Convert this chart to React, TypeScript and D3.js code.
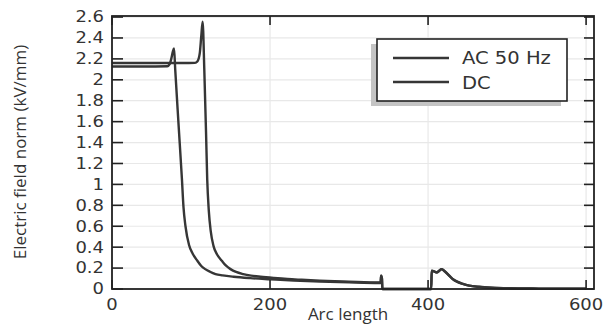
import React from "react";
import * as d3 from "d3";

// ---- data (arc length, electric field norm kV/mm) ----
const dcArc = [0, 40, 70, 73, 75, 77, 78.5, 80, 84, 88.5, 90.5, 93, 97.5, 102, 108, 113, 118, 124, 131, 140, 154, 175, 200, 230, 263, 300, 338, 340, 340.6, 341.6, 342.2, 404, 404.6, 408, 411, 414, 417, 420, 425, 431, 437, 444, 452, 465, 480, 500, 540, 600];
const dcVal = [2.127, 2.127, 2.13, 2.15, 2.2, 2.27, 2.30, 2.1, 1.6, 1.05, 0.78, 0.6, 0.42, 0.34, 0.27, 0.22, 0.19, 0.165, 0.143, 0.13, 0.117, 0.104, 0.093, 0.081, 0.072, 0.064, 0.058, 0.06, 0.127, 0.1, 0.0, 0.0, 0.175, 0.165, 0.158, 0.172, 0.19, 0.175, 0.14, 0.095, 0.068, 0.048, 0.032, 0.02, 0.012, 0.007, 0.004, 0.002];

const acArc = [0, 60, 105, 108, 111, 113, 114.7, 116.8, 119, 120.5, 122.5, 125, 128.5, 133, 139, 144, 150, 157, 166, 176, 188, 205, 222, 240, 263, 300, 338, 340, 340.6, 341.6, 342.2, 404, 404.6, 408, 411, 414, 417, 420, 425, 431, 437, 444, 452, 465, 480, 500, 540, 600];
const acVal = [2.16, 2.16, 2.162, 2.175, 2.25, 2.42, 2.555, 2.1, 1.5, 1.05, 0.75, 0.55, 0.41, 0.33, 0.27, 0.225, 0.19, 0.163, 0.143, 0.128, 0.117, 0.105, 0.095, 0.088, 0.08, 0.07, 0.062, 0.064, 0.127, 0.1, 0.0, 0.0, 0.175, 0.168, 0.16, 0.175, 0.19, 0.178, 0.142, 0.097, 0.07, 0.05, 0.033, 0.021, 0.013, 0.008, 0.004, 0.002];

const seriesNames = ["AC 50 Hz", "DC"];
const xTicks = [0, 200, 400, 600];
const yTicks = [0, 0.2, 0.4, 0.6, 0.8, 1, 1.2, 1.4, 1.6, 1.8, 2, 2.2, 2.4, 2.6];
const xLabel = "Arc length";
const yLabel = "Electric field norm (kV/mm)";

export default function App() {
  const W = 606, H = 325;
  const L = 112, R = 594, T = 16, B = 289;
  const x = d3.scaleLinear().domain([0, 610]).range([L, R]);
  const y = d3.scaleLinear().domain([0, 2.61]).range([B, T]);
  const line = d3
    .line<[number, number]>()
    .x((d) => x(d[0]))
    .y((d) => y(d[1]))
    .curve(d3.curveMonotoneX);
  const ac = acArc.map((a, i) => [a, acVal[i]] as [number, number]);
  const dc = dcArc.map((a, i) => [a, dcVal[i]] as [number, number]);
  const curveColor = "#363636";
  const axisColor = "#222";
  const tickFont = "'DejaVu Sans', sans-serif";
  const fmt = (v: number) => String(+v.toFixed(1));

  return (
    <svg
      width={W}
      height={H}
      style={{ position: "absolute", left: 0, top: 0, background: "#fff" }}
    >
      <rect x={0} y={0} width={W} height={H} fill="#fff" />
      {/* grid */}
      {yTicks.map((t) => (
        <line key={"gy" + t} x1={L} x2={R} y1={y(t)} y2={y(t)} stroke="#e8e8e8" strokeWidth={1.2} />
      ))}
      {xTicks.map((t) => (
        <line key={"gx" + t} x1={x(t)} x2={x(t)} y1={T} y2={B} stroke="#e8e8e8" strokeWidth={1.2} />
      ))}
      {/* curves */}
      <path d={line(dc) || ""} fill="none" stroke={curveColor} strokeWidth={2.4} strokeLinejoin="round" />
      <path d={line(ac) || ""} fill="none" stroke={curveColor} strokeWidth={2.4} strokeLinejoin="round" />
      {/* ticks */}
      {yTicks.map((t) => (
        <g key={"ty" + t}>
          <line x1={L} x2={L + 11} y1={y(t)} y2={y(t)} stroke={axisColor} strokeWidth={1.6} />
          <line x1={R - 10} x2={R} y1={y(t)} y2={y(t)} stroke={axisColor} strokeWidth={1.6} />
          <text
            transform={`translate(${L - 8},${y(t)}) scale(1.2,1)`}
            textAnchor="end"
            dy="0.36em"
            fontFamily={tickFont}
            fontSize={15}
            fill="#333"
          >
            {fmt(t)}
          </text>
        </g>
      ))}
      {xTicks.map((t) => (
        <g key={"tx" + t}>
          <line x1={x(t)} x2={x(t)} y1={B} y2={B - 9} stroke={axisColor} strokeWidth={1.6} />
          <line x1={x(t)} x2={x(t)} y1={T} y2={T + 9} stroke={axisColor} strokeWidth={1.6} />
          <text
            transform={`translate(${x(t)},${B + 21}) scale(1.2,1)`}
            textAnchor="middle"
            fontFamily={tickFont}
            fontSize={15}
            fill="#333"
          >
            {fmt(t)}
          </text>
        </g>
      ))}
      {/* frame */}
      <rect x={L} y={T} width={R - L} height={B - T} fill="none" stroke={axisColor} strokeWidth={1.8} />
      {/* axis labels */}
      <text x={348} y={320} textAnchor="middle" fontFamily="'Open Sans', sans-serif" fontSize={17} fill="#333">
        {xLabel}
      </text>
      <text
        transform={`translate(26,152) rotate(-90)`}
        textAnchor="middle"
        fontFamily="'Open Sans', sans-serif"
        fontSize={17}
        fill="#333"
      >
        {yLabel}
      </text>
      {/* legend */}
      <rect x={371} y={44} width={190} height={62} fill="#c4c4c4" />
      <rect x={377} y={39} width={190} height={62} fill="#fff" stroke={axisColor} strokeWidth={1.6} />
      {seriesNames.map((n, i) => (
        <g key={n}>
          <line x1={393} x2={449} y1={58 + i * 24} y2={58 + i * 24} stroke={curveColor} strokeWidth={2.4} />
          <text
            transform={`translate(462,${64 + i * 24.5}) scale(1.15,1)`}
            fontFamily={tickFont}
            fontSize={17}
            fill="#333"
          >
            {n}
          </text>
        </g>
      ))}
    </svg>
  );
}
